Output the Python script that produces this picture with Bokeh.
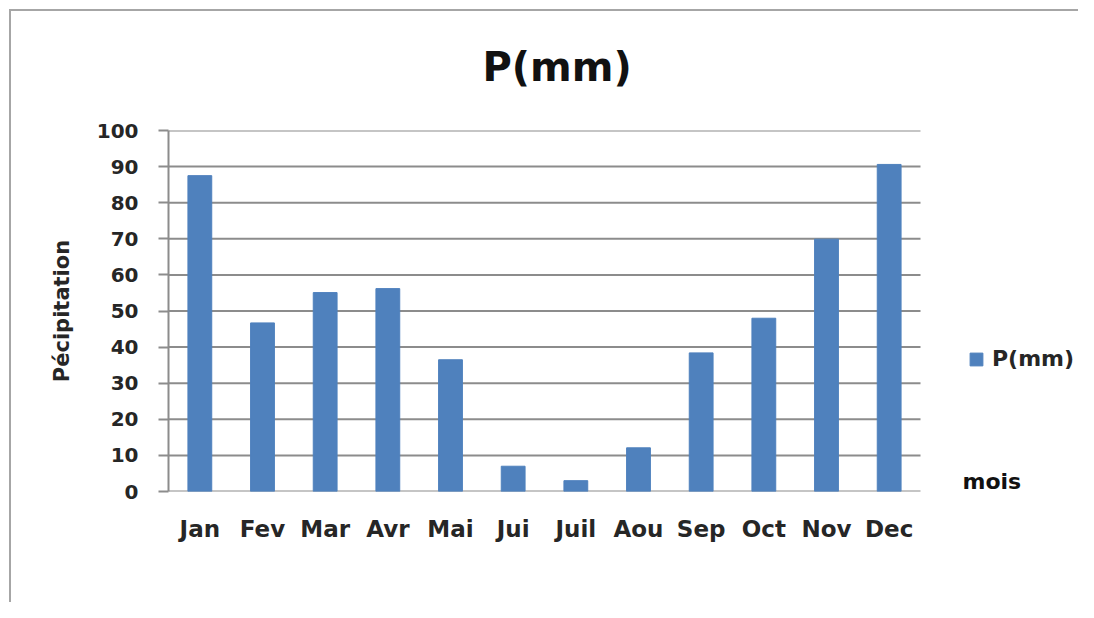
from bokeh.plotting import figure
from bokeh.models import Range1d, FixedTicker, Legend, LegendItem, Label
from bokeh.embed import file_html
from bokeh.resources import INLINE

months = ["Jan", "Fev", "Mar", "Avr", "Mai", "Jui", "Juil", "Aou", "Sep", "Oct", "Nov", "Dec"]
precip = [87.5, 46.7, 55.1, 56.2, 36.5, 7.0, 3.0, 12.1, 38.4, 48.0, 69.9, 90.6]
y_ticks = [0, 10, 20, 30, 40, 50, 60, 70, 80, 90, 100]

FONT = "DejaVu Sans"
TXT = "#262626"
GRID = "#8c8c8c"
BAR = "#4f81bd"

idx = list(range(len(months)))
n = len(months)

p = figure(x_range=Range1d(-0.5, -0.5 + n * 910 / 752), y_range=Range1d(0, 100),
           width=1078, height=602, output_backend="svg", toolbar_location=None,
           title="P(mm)", min_border_left=168, min_border_right=0,
           min_border_top=130, min_border_bottom=111)

p.border_fill_color = None
p.background_fill_color = None
p.outline_line_color = None
p.styles = {"background": "linear-gradient(#a6a6a6,#a6a6a6) 9px 9px / 2px 100% no-repeat, "
                          "linear-gradient(#a6a6a6,#a6a6a6) 9px 9px / 100% 2px no-repeat, white"}

# horizontal gridlines spanning only the category area
p.segment(x0=[-0.5] * len(y_ticks), x1=[n - 0.5] * len(y_ticks), y0=y_ticks, y1=y_ticks,
          line_color=GRID, line_width=2)

r = p.vbar(x=idx, top=precip, width=0.38, color=BAR, line_color=BAR)

p.title.text_font = FONT
p.title.text_font_size = "40px"
p.title.text_font_style = "bold"
p.title.text_color = "#111111"
p.title.align = "left"
p.title.offset = 314
p.title.standoff = 81

p.grid.grid_line_color = None
p.yaxis.ticker = FixedTicker(ticks=y_ticks)
p.yaxis.axis_line_color = GRID
p.yaxis.axis_line_width = 2
p.yaxis.major_tick_line_color = GRID
p.yaxis.major_tick_line_width = 2
p.yaxis.major_tick_out = 10
p.yaxis.major_tick_in = 0
p.yaxis.minor_tick_line_color = None
p.yaxis.major_label_standoff = 20
p.yaxis.major_label_text_font = FONT
p.yaxis.major_label_text_font_size = "20px"
p.yaxis.major_label_text_font_style = "bold"
p.yaxis.major_label_text_color = TXT
p.yaxis.axis_label = "Pécipitation"
p.yaxis.axis_label_text_font = FONT
p.yaxis.axis_label_text_font_size = "21px"
p.yaxis.axis_label_text_font_style = "bold"
p.yaxis.axis_label_text_color = TXT
p.yaxis.axis_label_standoff = 20

p.xaxis.ticker = FixedTicker(ticks=idx)
p.xaxis.major_label_overrides = {i: m for i, m in zip(idx, months)}
p.xaxis.axis_line_color = None
p.xaxis.major_tick_line_color = None
p.xaxis.major_tick_out = 0
p.xaxis.minor_tick_line_color = None
p.xaxis.major_label_standoff = 24
p.xaxis.major_label_text_font = FONT
p.xaxis.major_label_text_font_size = "23px"
p.xaxis.major_label_text_font_style = "bold"
p.xaxis.major_label_text_color = TXT

legend = Legend(items=[LegendItem(label="P(mm)", renderers=[r])], location=(800, 120),
                glyph_width=16, glyph_height=16, label_standoff=8, padding=0, margin=0,
                border_line_color=None, background_fill_alpha=0,
                label_text_font=FONT, label_text_font_size="22px",
                label_text_font_style="bold", label_text_color=TXT)
p.add_layout(legend, "center")

mois = Label(x=n - 0.5 + 42 / 62.67, y=2.8, text="mois", text_font=FONT, text_font_size="22px",
             text_font_style="bold", text_color="#111111", text_align="left",
             text_baseline="middle")
p.add_layout(mois)

open("out.html", "w").write(file_html(p, INLINE))
